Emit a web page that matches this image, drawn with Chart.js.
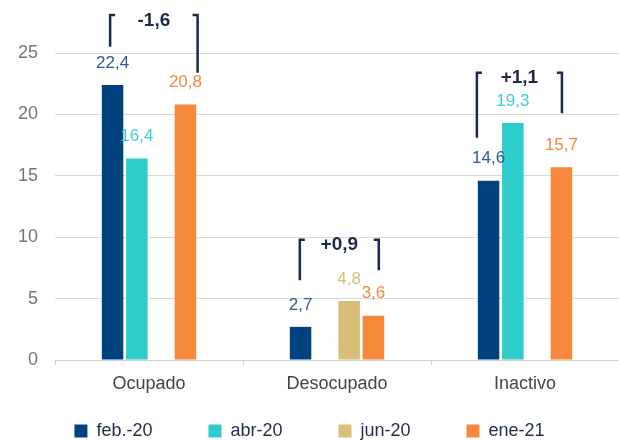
<!DOCTYPE html>
<html>
<head>
<meta charset="utf-8">
<script src="https://cdn.jsdelivr.net/npm/chart.js@4/dist/chart.umd.min.js"></script>
<style>
  html, body { margin: 0; padding: 0; background: #fff; }
  #wrap { width: 619px; height: 441px; }
</style>
</head>
<body>
<div id="wrap"><canvas id="myChart" width="619" height="441"></canvas></div>
<script>
const categories = ['Ocupado', 'Desocupado', 'Inactivo'];
const seriesNames = ['feb.-20', 'abr-20', 'jun-20', 'ene-21'];
const feb20 = [22.4, 2.7, 14.6];
const abr20 = [16.4, null, 19.3];
const jun20 = [null, 4.8, null];
const ene21 = [20.8, 3.6, 15.7];
const yTicks = [0, 5, 10, 15, 20, 25];

// change brackets: text, and y values (data units) of bracket top / left bottom / right bottom / label
const changeLabels = ['-1,6', '+0,9', '+1,1'];
const bracketTop = [28.1, 9.8, 23.4];
const bracketLeftBottom = [25.5, 6.5, 18.1];
const bracketRightBottom = [23.4, 7.3, 20.1];
const bracketLabelY = [27.6, 9.35, 23.0];
// horizontal place of each bracket side, in bar slots from the group centre
const bracketLeftSlot = [-1.6, -1.53, -1.98];
const bracketRightSlot = [2.0, 1.72, 1.52];

const barColors = ['#00427F', '#2ECDCC', '#D9BE78', '#F5883A'];
const labelColors = ['#2F5A96', '#3CCFCF', '#D9BE78', '#F5883A'];
const navy = '#1B2A4A';
const FONT = "'Liberation Sans', Arial, sans-serif";

const catPct = 0.517;
const barPct = 0.885;

const valueLabels = {
  id: 'valueLabels',
  afterDatasetsDraw(chart) {
    const ctx = chart.ctx;
    ctx.save();
    ctx.font = '17px ' + FONT;
    ctx.textAlign = 'center';
    ctx.textBaseline = 'middle';
    chart.data.datasets.forEach((ds, i) => {
      const meta = chart.getDatasetMeta(i);
      meta.data.forEach((bar, j) => {
        const v = ds.data[j];
        if (v == null) return;
        ctx.fillStyle = labelColors[i];
        ctx.fillText(v.toFixed(1).replace('.', ','), bar.x, bar.y - 22);
      });
    });
    ctx.restore();
  }
};

const brackets = {
  id: 'brackets',
  afterDraw(chart) {
    const ctx = chart.ctx;
    const xs = chart.scales.x, ys = chart.scales.y;
    const catW = xs.width / categories.length;
    const slot = catW * catPct / seriesNames.length;
    ctx.save();
    ctx.strokeStyle = navy;
    ctx.lineWidth = 2.5;
    for (let k = 0; k < categories.length; k++) {
      const cx = xs.getPixelForValue(k);
      const xl = cx + bracketLeftSlot[k] * slot;
      const xr = cx + bracketRightSlot[k] * slot;
      const yt = ys.getPixelForValue(bracketTop[k]);
      ctx.beginPath();
      ctx.moveTo(xl + 5, yt);
      ctx.lineTo(xl, yt);
      ctx.lineTo(xl, ys.getPixelForValue(bracketLeftBottom[k]));
      ctx.stroke();
      ctx.beginPath();
      ctx.moveTo(xr - 5, yt);
      ctx.lineTo(xr, yt);
      ctx.lineTo(xr, ys.getPixelForValue(bracketRightBottom[k]));
      ctx.stroke();
      ctx.fillStyle = navy;
      ctx.font = 'bold 19px ' + FONT;
      ctx.textAlign = 'center';
      ctx.textBaseline = 'middle';
      ctx.fillText(changeLabels[k], (xl + xr) / 2, ys.getPixelForValue(bracketLabelY[k]));
    }
    ctx.restore();
  }
};

// legend items sit "padding" px below the legend top; pull the box up so they land near the bottom
const legendPlace = {
  id: 'legendPlace',
  afterLayout(chart) {
    const lg = chart.legend;
    lg.top = chart.height - 75;
    lg.bottom = chart.height;
  }
};

const series = [feb20, abr20, jun20, ene21];
const datasets = series.map((vals, i) => ({
  label: seriesNames[i],
  data: vals,
  backgroundColor: barColors[i],
  borderWidth: 0,
  categoryPercentage: catPct,
  barPercentage: barPct
}));

new Chart(document.getElementById('myChart'), {
  type: 'bar',
  data: { labels: categories, datasets: datasets },
  options: {
    responsive: false,
    animation: false,
    layout: { padding: { top: 53, left: 0, right: 0, bottom: 0 } },
    plugins: {
      tooltip: { enabled: false },
      legend: {
        position: 'bottom',
        maxHeight: 43,
        labels: {
          boxWidth: 13,
          boxHeight: 13,
          padding: 56,
          color: '#1F2D4A',
          font: { family: FONT, size: 18 }
        }
      }
    },
    scales: {
      x: {
        grid: {
          display: true,
          offset: true,
          drawOnChartArea: false,
          drawTicks: true,
          tickLength: 5,
          color: '#D0D0D0'
        },
        border: { display: true, color: '#D0D0D0' },
        ticks: {
          color: '#3F4650',
          font: { family: FONT, size: 18 },
          padding: 8,
          autoSkip: false,
          maxRotation: 0,
          minRotation: 0
        },
        afterFit(scale) { scale.height = 38; }
      },
      y: {
        min: 0,
        max: 25,
        afterBuildTicks(scale) { scale.ticks = yTicks.map(v => ({ value: v })); },
        grid: { color: '#D9D9D9', drawTicks: false },
        border: { display: false },
        ticks: { color: '#767676', font: { family: FONT, size: 18 }, padding: 17 },
        afterFit(scale) { scale.width = 55; }
      }
    }
  },
  plugins: [valueLabels, brackets, legendPlace]
});
</script>
</body>
</html>
